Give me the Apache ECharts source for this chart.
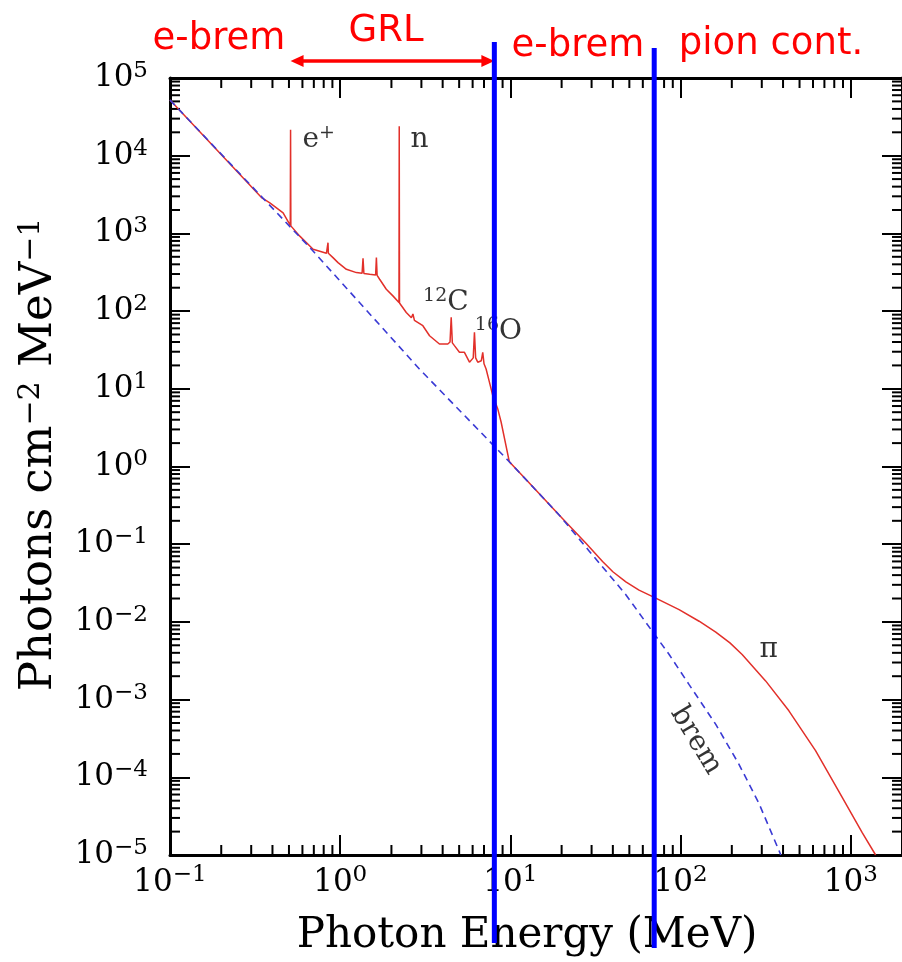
<!DOCTYPE html>
<html>
<head>
<meta charset="utf-8">
<script src="https://cdn.jsdelivr.net/npm/echarts@6/dist/echarts.min.js"></script>
<style>
html,body{margin:0;padding:0;background:#ffffff;}
#chart{width:902px;height:962px;}
</style>
</head>
<body>
<div id="chart"></div>
<script>
// ---------------- data ----------------
const X_MIN = 0.1, X_MAX = 2000, Y_MIN = 1e-5, Y_MAX = 1e5;

// electron bremsstrahlung component (blue dashed), MeV vs photons cm^-2 MeV^-1
const bremEnergy = [0.1, 0.678, 2.92, 9.86, 19.4, 29.0, 47.7, 70.0, 85.7, 112, 161, 220, 289, 378, 388];
const bremFlux   = [5.2e4, 624, 18.0, 1.15, 0.236, 0.082, 0.0224, 0.0070, 0.0038, 0.00157, 4.8e-4, 1.48e-4, 4.6e-5, 1.15e-5, 1.0e-5];

// total spectrum (red): brem + nuclear lines + pion-decay continuum
const totalEnergy = [0.1, 0.347, 0.386, 0.462, 0.509, 0.511, 0.513, 0.579, 0.693, 0.830, 0.844, 0.848, 0.852, 0.907, 0.971, 1.087, 1.245, 1.345, 1.362, 1.378, 1.49, 1.615, 1.632, 1.648, 1.705, 1.866, 2.04, 2.215, 2.223, 2.231, 2.445, 2.62, 2.675, 2.73, 3.06, 3.35, 3.83, 4.29, 4.42, 4.49, 4.56, 4.69, 5.02, 5.37, 5.75, 6.05, 6.15, 6.25, 6.43, 6.75, 6.88, 7.0, 7.2, 7.53, 7.88, 8.42, 8.82, 9.86, 13.5, 19.4, 27.8, 34.8, 40, 47.7, 57, 70, 98, 128.5, 161, 195, 230, 316, 433, 621, 889, 1165, 1400];
const totalFlux   = [5.2e4, 2860, 2476, 1841, 1268, 21500, 1250, 922, 624, 554, 560, 760, 555, 488, 421, 345, 313, 308, 478, 305, 298, 292, 488, 288, 257, 191, 157, 129, 24000, 127, 96, 82, 92, 76, 64.8, 48.2, 37.7, 37.7, 40, 83, 39, 35.9, 29.5, 29.5, 22.0, 25, 53.3, 25, 22.0, 23, 29.5, 21, 18.0, 12.2, 8.2, 5.55, 3.74, 1.15, 0.552, 0.236, 0.103, 0.060, 0.0442, 0.0328, 0.0256, 0.0207, 0.0144, 0.0102, 0.0074, 0.00537, 0.00381, 0.00174, 7.17e-4, 2.2e-4, 5.54e-5, 1.95e-5, 1.0e-5];

// in-plot annotations
const annotationText   = ['e{sup|+}', 'n', '{sup|12}C', '{sup|16}O', 'π', 'brem'];
const annotationEnergy = [0.748, 2.924, 4.18, 8.5, 330, 123];
const annotationFlux   = [1.6e4, 1.6e4, 127, 53.8, 0.00438, 2.98e-4];

// vertical division lines and the GRL range arrow (MeV)
const cutEnergies = [8.05, 70];
const grlRange = [0.511, 8.05];

// header labels
const headerLabels = ['e-brem', 'GRL', 'e-brem', 'pion cont.'];

// tick values
const decades = [-5, -4, -3, -2, -1, 0, 1, 2, 3, 4];
const minorMultipliers = [2, 3, 4, 5, 6, 7, 8, 9];

// ---------------- styling ----------------
const SERIF = "'DejaVu Serif', 'Liberation Serif', serif";
const SANS = "'DejaVu Sans', 'Open Sans', sans-serif";
const MAJOR_LEN = 20, MINOR_LEN = 10;
const cutExtents = [[36, 88], [30, 93]];   // px beyond top / bottom of plot frame
const GRL_OFFSET = 17;                    // px above plot frame

const xMinorTicks = [], yMinorTicks = [];
decades.forEach(d => minorMultipliers.forEach(m => {
  const v = m * Math.pow(10, d);
  if (v > X_MIN && v < X_MAX) xMinorTicks.push(v);
  if (v > Y_MIN && v < Y_MAX) yMinorTicks.push(v);
}));

function powLabel(v) {
  const l = Math.log10(v);
  const e = Math.round(l);
  if (Math.abs(l - e) > 1e-6) return '';
  return '{b|10}{s|' + String(e).replace('-', '\u2212') + '}';
}
const tickRich = {
  b: {fontFamily: SERIF, fontSize: 31, color: '#000', lineHeight: 37, verticalAlign: 'middle'},
  s: {fontFamily: SERIF, fontSize: 23, color: '#000', lineHeight: 23, verticalAlign: 'top'}
};

function baseAxis(extra) {
  return Object.assign({
    type: 'log', logBase: 10,
    axisLine: {show: true, onZero: false, lineStyle: {color: '#000', width: 3}},
    axisTick: {show: true, inside: true, length: MAJOR_LEN, lineStyle: {color: '#000', width: 2}},
    splitLine: {show: false},
    minorTick: {show: false},
    minorSplitLine: {show: false}
  }, extra);
}

const chart = echarts.init(document.getElementById('chart'), null, {renderer: 'canvas'});

const option = {
  animation: false,
  backgroundColor: '#ffffff',
  grid: {left: 170, top: 78, width: 733, height: 780, containLabel: false},
  xAxis: [
    baseAxis({min: X_MIN, max: X_MAX, position: 'bottom',
      axisLabel: {formatter: powLabel, rich: tickRich, margin: 9, showMaxLabel: false},
      name: 'Photon Energy (MeV)', nameLocation: 'middle', nameGap: 60,
      nameTextStyle: {fontFamily: SERIF, fontSize: 42, color: '#000', padding: [0, 18, 0, 0]}
    }),
    baseAxis({min: X_MIN, max: X_MAX, position: 'top', axisLabel: {show: false}})
  ],
  yAxis: [
    baseAxis({min: Y_MIN, max: Y_MAX, interval: 1, position: 'left', splitNumber: 10,
      axisLabel: {formatter: powLabel, rich: tickRich, margin: 22},
      name: 'Photons cm{s|\u22122} MeV{s|\u22121}', nameLocation: 'middle', nameGap: 104, nameRotate: 90,
      nameTextStyle: {fontFamily: SERIF, fontSize: 45, color: '#000', lineHeight: 48, padding: [0, 0, 0, 24],
        rich: {s: {fontFamily: SERIF, fontSize: 30, color: '#000', lineHeight: 30, verticalAlign: 'top'}}}
    }),
    baseAxis({min: Y_MIN, max: Y_MAX, interval: 1, position: 'right', splitNumber: 10, axisLabel: {show: false}})
  ],
  graphic: [
    {type: 'text', x: 219, y: 39, style: {text: headerLabels[0], font: '37px ' + SANS, fill: '#ff0000', align: 'center', verticalAlign: 'middle'}},
    {type: 'text', x: 386, y: 31, style: {text: headerLabels[1], font: '37px ' + SANS, fill: '#ff0000', align: 'center', verticalAlign: 'middle'}},
    {type: 'text', x: 578, y: 46, style: {text: headerLabels[2], font: '37px ' + SANS, fill: '#ff0000', align: 'center', verticalAlign: 'middle'}},
    {type: 'text', x: 771, y: 44, style: {text: headerLabels[3], font: '37px ' + SANS, fill: '#ff0000', align: 'center', verticalAlign: 'middle'}}
  ],
  series: [
    {
      type: 'custom', name: 'x minor ticks', silent: true, z: 3,
      data: xMinorTicks.map(v => [v, Y_MIN]),
      renderItem(params, api) {
        const cs = params.coordSys;
        const x = api.coord([api.value(0), Y_MIN])[0];
        const yb = cs.y + cs.height, yt = cs.y;
        const st = {stroke: '#000', lineWidth: 2};
        return {type: 'group', children: [
          {type: 'line', shape: {x1: x, y1: yb, x2: x, y2: yb - MINOR_LEN}, style: st},
          {type: 'line', shape: {x1: x, y1: yt, x2: x, y2: yt + MINOR_LEN}, style: st}
        ]};
      }
    },
    {
      type: 'custom', name: 'y minor ticks', silent: true, z: 3,
      data: yMinorTicks.map(v => [X_MIN, v]),
      renderItem(params, api) {
        const cs = params.coordSys;
        const y = api.coord([X_MIN, api.value(1)])[1];
        const xl = cs.x, xr = cs.x + cs.width;
        const st = {stroke: '#000', lineWidth: 2};
        return {type: 'group', children: [
          {type: 'line', shape: {x1: xl, y1: y, x2: xl + MINOR_LEN, y2: y}, style: st},
          {type: 'line', shape: {x1: xr, y1: y, x2: xr - MINOR_LEN, y2: y}, style: st}
        ]};
      }
    },
    {
      type: 'line', name: 'total', symbol: 'none', z: 4,
      data: totalEnergy.map((e, i) => [e, totalFlux[i]]),
      lineStyle: {color: '#e2302a', width: 1.5}
    },
    {
      type: 'line', name: 'brem', symbol: 'none', z: 5,
      data: bremEnergy.map((e, i) => [e, bremFlux[i]]),
      lineStyle: {color: '#3a3ad4', width: 1.6, type: [7, 5]}
    },
    {
      type: 'scatter', name: 'annotations', symbolSize: 1, z: 6,
      itemStyle: {color: 'rgba(0,0,0,0)'},
      data: annotationText.map((t, i) => ({
        value: [annotationEnergy[i], annotationFlux[i]], name: t,
        label: t === 'brem' ? {rotate: -59} : {}
      })),
      label: {
        show: true, position: 'inside', color: '#000',
        formatter: p => p.name,
        fontFamily: SERIF, fontSize: 28, lineHeight: 32,
        rich: {sup: {fontFamily: SERIF, fontSize: 19, color: '#000', lineHeight: 19, verticalAlign: 'top'}}
      }
    },
    {
      type: 'custom', name: 'cuts', clip: false, silent: true, z: 20,
      data: cutEnergies.map(e => [e, Y_MAX]),
      renderItem(params, api) {
        const cs = params.coordSys;
        const x = api.coord([api.value(0), Y_MAX])[0];
        const ext = cutExtents[params.dataIndex];
        return {type: 'line', shape: {x1: x, y1: cs.y - ext[0], x2: x, y2: cs.y + cs.height + ext[1]},
          style: {stroke: '#0000ff', lineWidth: 5}};
      }
    },
    {
      type: 'custom', name: 'GRL range', clip: false, silent: true, z: 19,
      data: [[grlRange[0], Y_MAX, grlRange[1]]],
      renderItem(params, api) {
        const cs = params.coordSys;
        const x1 = api.coord([api.value(0), Y_MAX])[0];
        const x2 = api.coord([api.value(2), Y_MAX])[0];
        const y = cs.y - GRL_OFFSET;
        const L = 13, H = 6;
        const red = '#ff0000';
        return {type: 'group', children: [
          {type: 'line', shape: {x1: x1 + L - 2, y1: y, x2: x2 - L + 2, y2: y}, style: {stroke: red, lineWidth: 3.5}},
          {type: 'polygon', shape: {points: [[x1, y], [x1 + L, y - H], [x1 + L, y + H]]}, style: {fill: red}},
          {type: 'polygon', shape: {points: [[x2, y], [x2 - L, y - H], [x2 - L, y + H]]}, style: {fill: red}}
        ]};
      }
    }
  ]
};
chart.setOption(option);
</script>
</body>
</html>
